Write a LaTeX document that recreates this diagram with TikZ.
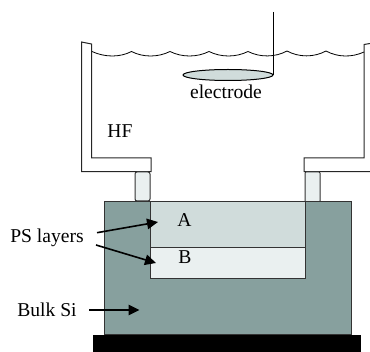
\documentclass[tikz,border=0pt]{standalone}
\usepackage{fontspec}
\setmainfont{Liberation Serif}
\usetikzlibrary{arrows.meta}
\definecolor{si}{HTML}{87A09E}
\definecolor{la}{HTML}{D0DCDB}
\definecolor{lb}{HTML}{EAF0F0}
\tikzset{
  lbl/.style={font=\fontsize{19.6}{21}\selectfont, text=black, inner sep=0pt, anchor=base},
  wall/.style={draw=black!85, line width=1pt},
  box/.style={draw=black!80, line width=1pt},
  arr/.style={-{Triangle[length=11pt,width=10.5pt]}, line width=1.6pt, black},
}
\begin{document}
\begin{tikzpicture}[x=1pt,y=-1pt]
\useasboundingbox (0,0) rectangle (370,352);
% vessel
\draw[wall,line join=miter] (81.5,42) -- (91.5,44) -- (91.5,158) -- (151,158) -- (151,171.7) -- (81.5,171.7) -- cycle;
\draw[wall] (370,43.5) -- (364,44.5) -- (364,158) -- (304,158) -- (304,171.7) -- (370,171.7);
% liquid surface
\draw[black,line width=.8pt] (92,51.5)
  .. controls (105,57.5) and (120,57.5) .. (131.5,51.5)
  .. controls (143,57.5) and (158,57.5) .. (170,51.5)
  .. controls (182,57.5) and (197,57.5) .. (209,51.5)
  .. controls (221,57.5) and (236,57.5) .. (248,51.5)
  .. controls (260,57.5) and (275,57.5) .. (287,51)
  .. controls (299,57.5) and (314,57.5) .. (326,51)
  .. controls (338,57.5) and (352,57.5) .. (364,52);
% electrode
\draw[black,line width=1pt,fill=la] (228,75) ellipse [x radius=45, y radius=5.5];
\draw[black,line width=1pt] (273.5,12) -- (273.5,75);
\node[lbl] (el) at (226,99) {electrode};
\node[lbl] (hf) at (120,138) {HF};
% seals
\draw[box,fill=lb,rounded corners=2pt] (135,172) rectangle (150,201);
\draw[box,fill=lb,rounded corners=1pt] (305,172) rectangle (320,202);
% silicon
\fill[black] (93,335) rectangle (361,352);
\draw[box,fill=si] (104,202) rectangle (351,335);
\draw[box,fill=la] (150,202) rectangle (305,248);
\draw[box,fill=lb] (150,248) rectangle (305,279);
\node[lbl] (A) at (184.5,227) {A};
\node[lbl] (B) at (185,264) {B};
\node[lbl] (ps) at (47,243) {PS layers};
\node[lbl] (bulk) at (47,317) {Bulk Si};
\coordinate (a1) at (97,232.7);
\coordinate (a2) at (158,222);
\coordinate (b1) at (96,245);
\coordinate (b2) at (156,263);
\coordinate (c1) at (89,310);
\coordinate (c2) at (139.5,310);
\draw[arr] (a1) -- (a2);
\draw[arr] (b1) -- (b2);
\draw[arr] (c1) -- (c2);
\end{tikzpicture}
\end{document}
